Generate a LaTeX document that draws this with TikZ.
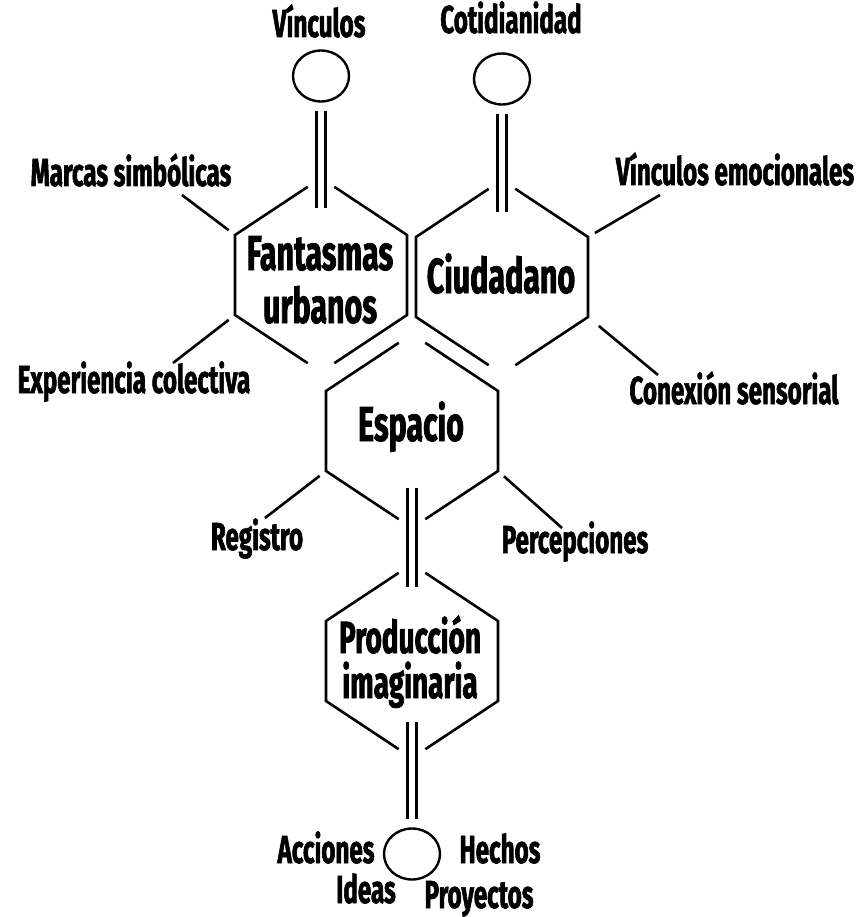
\documentclass[tikz,border=0pt]{standalone}
\usepackage{fontspec}
\setmainfont{Fira Sans}[FakeStretch=0.62, BoldFeatures={FakeBold=1.5}]
\usetikzlibrary{shapes.geometric, positioning}

% vertices de un hexagono: nombre, x, y
\newcommand{\hexvertices}[3]{%
  \coordinate (#1-t)  at (#2, #3-97);
  \coordinate (#1-ur) at (#2+86, #3-40);
  \coordinate (#1-lr) at (#2+86, #3+40);
  \coordinate (#1-b)  at (#2, #3+97);
  \coordinate (#1-ll) at (#2-86, #3+40);
  \coordinate (#1-ul) at (#2-86, #3-40);
  \draw[hexline] (#1-t) -- (#1-ul) -- (#1-ll) -- (#1-b);
  \draw[hexline] (#1-t) -- (#1-ur) -- (#1-lr) -- (#1-b);
}

\begin{document}
\begin{tikzpicture}[
  x=1pt, y=-1pt,
  hexline/.style={line width=2.6pt, shorten <=16pt, shorten >=16pt},
  leader/.style={line width=2.6pt, shorten <=8pt},
  enlace/.style={double, double distance=6.2pt, line width=2.6pt},
  anillo/.style={ellipse, draw, line width=2.4pt, inner sep=0pt,
                 minimum width=56pt, minimum height=51pt},
  etiqueta/.style={font=\fontsize{39}{46}\selectfont\bfseries,
                   inner sep=0pt, anchor=base},
  titulo/.style={font=\fontsize{49}{53}\selectfont\bfseries,
                 align=center, inner sep=0pt, anchor=base},
]
\useasboundingbox (0,0) rectangle (861,917);
% Hexagonos
\hexvertices{fant}{321}{275}
\hexvertices{ciud}{502}{277}
\hexvertices{esp}{412}{431}
\hexvertices{prod}{412}{661}
% Textos centrales
\node[titulo] (fanttxt) at (320,323) {Fantasmas\\urbanos};
\node[titulo] (ciudtxt) at (501,293) {Ciudadano};
\node[titulo] (esptxt)  at (411,441) {Espacio};
\node[titulo, font=\fontsize{45}{45}\selectfont\bfseries]
  (prodtxt) at (410,698) {Producción\\imaginaria};
% Circulos
\node[anillo] (vinc) at (321,76) {};
\node[anillo] (coti) at (502,79) {};
\node[anillo] (res)  at (412,854) {};
% Etiquetas
\node[etiqueta] (vinctxt) at (319,37)  {Vínculos};
\node[etiqueta] (cotitxt) at (511,33)  {Cotidianidad};
\node[etiqueta] (marcas)  at (131,186) {Marcas simbólicas};
\node[etiqueta] (emoc)    at (735,185) {Vínculos emocionales};
\node[etiqueta] (expe)    at (134,393) {Experiencia colectiva};
\node[etiqueta] (sens)    at (734,404) {Conexión sensorial};
\node[etiqueta] (regi)    at (257,550) {Registro};
\node[etiqueta] (perc)    at (575,553) {Percepciones};
\node[etiqueta] (acci)    at (326,863) {Acciones};
\node[etiqueta] (hech)    at (500,863) {Hechos};
\node[etiqueta] (idea)    at (366,903) {Ideas};
\node[etiqueta] (proy)    at (479,908) {Proyectos};
% Enlaces dobles
\draw[enlace, shorten <=8pt] (vinc.south) -- ([yshift=-30pt]fant-t);
\draw[enlace, shorten <=8pt] (coti.south) -- ([yshift=-32pt]ciud-t);
\draw[enlace] ([yshift=40pt]esp-b) -- ([yshift=-23pt]prod-t);
\draw[enlace, shorten >=8pt] ([yshift=36pt]prod-b) -- (res.north);
% Lineas hacia las etiquetas
\coordinate (m-end) at (182,195);
\coordinate (x-end) at (173,363);
\coordinate (e-end) at (660,195);
\coordinate (s-end) at (658,375);
\coordinate (r-end) at (265,518);
\coordinate (p-end) at (562,528);
\draw[leader] (fant-ul) -- (m-end);
\draw[leader] (fant-ll) -- (x-end);
\draw[leader] (ciud-ur) -- (e-end);
\draw[leader, shorten <=14pt] (ciud-lr) -- (s-end);
\draw[leader] (esp-ll) -- (r-end);
\draw[leader] (esp-lr) -- (p-end);
\end{tikzpicture}
\end{document}
